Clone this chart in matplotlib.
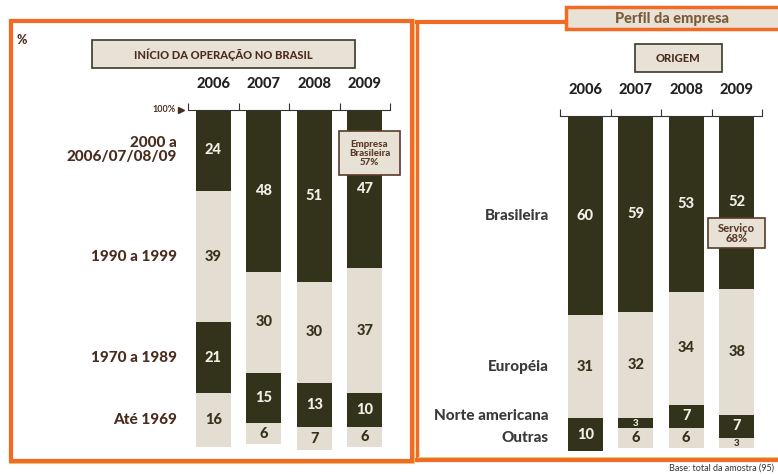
import numpy as np
import matplotlib.pyplot as plt
from matplotlib.patches import Rectangle

plt.rcParams['font.family'] = ['Lato', 'DejaVu Sans']
plt.rcParams['font.weight'] = 'bold'

years = ['2006', '2007', '2008', '2009']

# Início da operação no Brasil (%), top to bottom
inicio_labels = ['2000 a\n2006/07/08/09', '1990 a 1999', '1970 a 1989', 'Até 1969']
inicio = np.array([[24, 48, 51, 47],
                   [39, 30, 30, 37],
                   [21, 15, 13, 10],
                   [16, 6, 7, 6]])

# Origem (%), top to bottom
origem_labels = ['Brasileira', 'Européia', 'Norte americana', 'Outras']
origem = np.array([[60, 59, 53, 52],
                   [31, 32, 34, 38],
                   [10, 3, 7, 7],
                   [0, 6, 6, 3]])

DARK = '#33331b'
LIGHT = '#e4ded2'
BROWN = '#4b2d1f'
ORANGE = '#f26a24'
BOXFILL = '#e8e2d6'
W, H = 778, 475


def frac(x0, x1, ytop, ybot):
    return [x0 / W, 1 - ybot / H, (x1 - x0) / W, (ybot - ytop) / H]


def stacked(ax, data, label_rows, labels, label_color):
    x = np.arange(data.shape[1])
    tops = np.vstack([np.zeros(data.shape[1]), np.cumsum(data, axis=0)[:-1]])
    for k, row in enumerate(data):
        color = DARK if k % 2 == 0 else LIGHT
        tcol = '#f2efe8' if k % 2 == 0 else DARK
        ax.bar(x, row, bottom=tops[k], width=0.69, color=color, clip_on=False)
        for i, v in enumerate(row):
            if v == 0:
                continue
            ax.text(x[i], tops[k][i] + v / 2, str(v), ha='center', va='center',
                    color=tcol, fontsize=10.5 if v > 4 else 7, fontweight='black')
    for k, lab in enumerate(labels):
        j = label_rows[k]
        yc = tops[k][j] + data[k][j] / 2
        ax.text(-0.72, yc, lab, ha='right', va='center', color=label_color,
                fontsize=11, linespacing=1.0, fontweight='black')
    ax.set_xlim(-0.5, 3.5)
    ax.set_ylim(100, 0)
    for s in ['left', 'right', 'bottom']:
        ax.spines[s].set_visible(False)
    ax.spines['top'].set_color('#333333')
    ax.xaxis.set_ticks_position('top')
    ax.set_xticks([-0.5, 0.5, 1.5, 2.5, 3.5])
    ax.set_xticklabels([])
    ax.set_xticks(x, minor=True)
    ax.set_xticklabels(years, minor=True, fontsize=10.5, color='#222222',
                       fontweight='black')
    ax.tick_params(axis='x', which='major', direction='out', length=5,
                   color='#333333')
    ax.tick_params(axis='x', which='minor', length=0, pad=14)
    ax.tick_params(axis='y', left=False, labelleft=False)


fig = plt.figure(figsize=(7.78, 4.75), dpi=100)

ax1 = fig.add_axes(frac(188, 390, 110, 447))
stacked(ax1, inicio, [0, 0, 0, 0], inicio_labels, BROWN)
ax2 = fig.add_axes(frac(560, 762, 116, 448))
stacked(ax2, origem, [0, 0, 2, 2], origem_labels, '#3a3a3a')

# overlay for frames, boxes and notes (pixel coordinates)
ov = fig.add_axes([0, 0, 1, 1])
ov.set_xlim(0, W)
ov.set_ylim(H, 0)
ov.axis('off')
ov.patch.set_alpha(0)

ov.add_patch(Rectangle((9, 19), 405, 444, fill=False, ec='#d8d27a', lw=0.8))
ov.add_patch(Rectangle((11, 21), 401, 440, fill=False, ec=ORANGE, lw=3))
ov.plot([417, 417], [22, 460], color=ORANGE, lw=2.5)
ov.plot([417, 566], [22, 22], color=ORANGE, lw=3)
ov.plot([417, 778], [460, 460], color=ORANGE, lw=3)
ov.plot([418, 778], [456.5, 456.5], color='#d8d27a', lw=0.8)

ov.add_patch(Rectangle((566, 7), 215, 22, fc=BOXFILL, ec=ORANGE, lw=2.5))
ov.text(672, 18.5, 'Perfil da empresa', ha='center', va='center',
        color='#7b5c3a', fontsize=10.5, fontweight='black')

ov.add_patch(Rectangle((92, 40), 263, 28, fc=BOXFILL, ec='#3b3a2a', lw=1.2))
ov.text(223.5, 54.5, 'INÍCIO DA OPERAÇÃO NO BRASIL', ha='center', va='center',
        color=BROWN, fontsize=8, fontweight='black')
ov.add_patch(Rectangle((635, 44), 87, 28, fc=BOXFILL, ec='#3b3a2a', lw=1.2))
ov.text(678.5, 58.5, 'ORIGEM', ha='center', va='center', color=BROWN,
        fontsize=8, fontweight='black')

ov.add_patch(Rectangle((339, 131), 61, 44, fc=BOXFILL, ec='#5a3a28', lw=1.2))
ov.text(369.5, 153.5, 'Empresa\nBrasileira\n57%', ha='center', va='center',
        color='#5a3a28', fontsize=7, linespacing=1.0, fontweight='black')
ov.add_patch(Rectangle((708, 218), 57, 30, fc=BOXFILL, ec='#5a3a28', lw=1.2))
ov.text(736.5, 233.5, 'Serviço\n68%', ha='center', va='center',
        color='#5a3a28', fontsize=8, linespacing=1.0, fontweight='black')

ov.text(22, 40, '%', ha='center', va='center', color=BROWN, fontsize=9,
        fontweight='black')
ov.text(176, 110, '100%', ha='right', va='center', color=BROWN, fontsize=6.5)
ov.plot([181], [110], marker='>', ms=5, color=BROWN)
ov.text(774, 468, 'Base: total da amostra (95)', ha='right', va='center',
        color='#333333', fontsize=6.5, fontweight='normal')

fig.savefig('out.png', dpi=100)
